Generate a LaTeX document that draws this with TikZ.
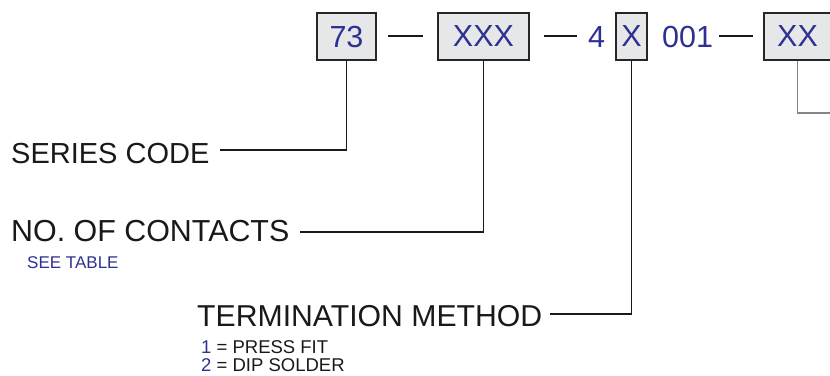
\documentclass[tikz,border=0pt]{standalone}
\usepackage{fontspec}
\setmainfont{Liberation Sans}
\definecolor{codeblue}{HTML}{2E3192}
\definecolor{boxgrey}{HTML}{E6E7E8}
\definecolor{leadgrey}{HTML}{858585}
\tikzset{
  codebox/.style={draw=black!85, fill=boxgrey, line width=2pt, inner sep=0pt,
    minimum height=47pt, text=codeblue, font=\fontsize{30.5pt}{31pt}\selectfont},
  codetext/.style={anchor=base west, inner sep=0pt, text=codeblue,
    font=\fontsize{30.5pt}{31pt}\selectfont},
  biglabel/.style={anchor=base west, inner sep=0pt, text=black!90},
  smallnote/.style={anchor=base west, inner sep=0pt, text=codeblue,
    font=\fontsize{17pt}{18pt}\selectfont},
  itemnote/.style={anchor=base west, inner sep=0pt, text=black!90,
    font=\fontsize{18.5pt}{19pt}\selectfont},
  leader/.style={draw=black!90, line width=1.6pt},
  greyleader/.style={draw=leadgrey, line width=1.3pt},
  dashline/.style={draw=black!90, line width=1.6pt}
}
\begin{document}
\begin{tikzpicture}[x=1pt,y=-1pt]
\useasboundingbox (0,0) rectangle (830,375);
\clip (0,0) rectangle (830,375);
% code boxes
\node[codebox, minimum width=59pt] (b73) at (346.5,36.5) {73};
\node[codebox, minimum width=91pt] (bXXX) at (483.5,36.5) {XXX};
\node[codebox, minimum width=31pt] (bX) at (631.5,36.5) {X};
\node[codebox, minimum width=67pt] (bXX) at (797.5,36.5) {XX};
\node[codetext] (four) at (588,47) {4};
\node[codetext] (zzo) at (662,47) {001};
% dashes
\coordinate (d1a) at (388,36); \coordinate (d1b) at (423,36);
\coordinate (d2a) at (544,36); \coordinate (d2b) at (577,36);
\coordinate (d3a) at (719,36); \coordinate (d3b) at (753,36);
\draw[dashline] (d1a) -- (d1b);
\draw[dashline] (d2a) -- (d2b);
\draw[dashline] (d3a) -- (d3b);
% labels
\node[biglabel, font=\fontsize{29pt}{30pt}\selectfont] (series) at (11,163) {SERIES CODE};
\node[biglabel, font=\fontsize{30.4pt}{31pt}\selectfont] (contacts) at (11,241) {NO. OF CONTACTS};
\node[smallnote] (seetable) at (27,268) {SEE TABLE};
\node[biglabel, font=\fontsize{30.2pt}{31pt}\selectfont] (term) at (197,326) {TERMINATION METHOD};
\node[itemnote] (opt1) at (201,353) {\textcolor{codeblue}{1} = PRESS FIT};
\node[itemnote] (opt2) at (201,371) {\textcolor{codeblue}{2} = DIP SOLDER};
% leaders
\coordinate (s1) at (220,150);
\coordinate (s2) at (300,232);
\coordinate (s3) at (550,314);
\draw[leader] (s1) -| (b73.south);
\draw[leader] (s2) -| (bXXX.south);
\draw[leader] (s3) -| (bX.south);
\coordinate (g1) at (845,113);
\draw[greyleader] (bXX.south) |- (g1);
\end{tikzpicture}
\end{document}
